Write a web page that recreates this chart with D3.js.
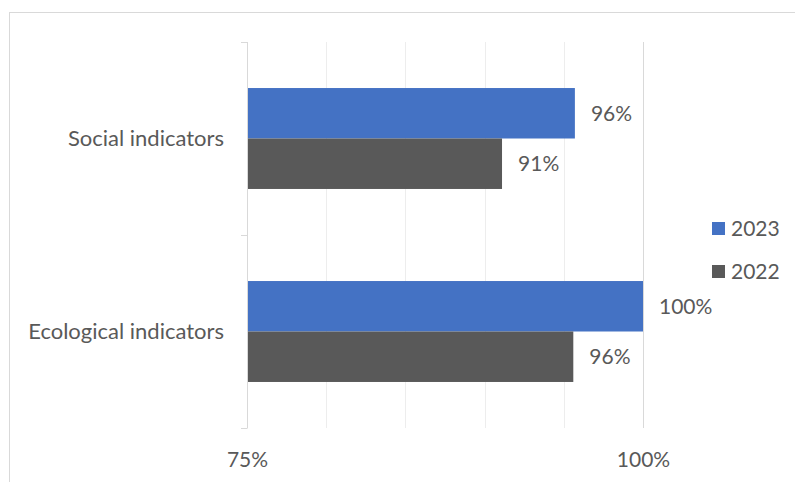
<!DOCTYPE html>
<html>
<head>
<meta charset="utf-8">
<script src="https://cdn.jsdelivr.net/npm/d3@7"></script>
<style>
  html, body { margin: 0; padding: 0; background: #fff; }
  svg { display: block; font-family: Lato, "Open Sans", sans-serif; }
</style>
</head>
<body>
<svg id="chart" width="795" height="482"></svg>
<script>
// ---- data ----
const categories = ['Social indicators', 'Ecological indicators'];
const seriesNames = ['2023', '2022'];
const values2023 = [0.957, 1.0];
const values2022 = [0.911, 0.956];
const majorTicks = [0.75, 1.0];
const minorTicks = [0.80, 0.85, 0.90, 0.95];

const COLORS = { '2023': '#4472c4', '2022': '#595959' };
const TEXT = '#595959';

const rows = categories.map((c, i) => ({
  cat: c,
  vals: [
    { key: '2023', v: values2023[i] },
    { key: '2022', v: values2022[i] }
  ]
}));

const svg = d3.select('#chart');
const margin = { top: 42, left: 247, right: 152, bottom: 54 };
const W = 795, H = 482;

// chart area border
svg.append('rect')
  .attr('x', 9.5).attr('y', 12.5)
  .attr('width', 800).attr('height', 500)
  .attr('fill', 'none').attr('stroke', '#d9d9d9');

const x = d3.scaleLinear().domain([0.75, 1.0]).range([margin.left, W - margin.right]);
const y = d3.scaleBand().domain(categories)
  .range([margin.top, H - margin.bottom])
  .paddingInner(0.477).paddingOuter(0.2385);
const ySub = d3.scaleBand().domain(seriesNames).range([0, y.bandwidth()]);

const plotTop = margin.top, plotBot = H - margin.bottom;

// gridlines
svg.append('g').selectAll('line').data(minorTicks).join('line')
  .attr('x1', d => Math.round(x(d)) + 0.5).attr('x2', d => Math.round(x(d)) + 0.5)
  .attr('y1', plotTop).attr('y2', plotBot)
  .attr('stroke', '#ededed');
svg.append('g').selectAll('line').data(majorTicks.slice(1)).join('line')
  .attr('x1', d => Math.round(x(d)) + 0.5).attr('x2', d => Math.round(x(d)) + 0.5)
  .attr('y1', plotTop).attr('y2', plotBot)
  .attr('stroke', '#d9d9d9');

// category axis line + boundary ticks
const bounds = [plotTop, plotTop + y.step(), plotBot];
const axisG = svg.append('g');
axisG.append('line')
  .attr('x1', x(0.75) + 0.5).attr('x2', x(0.75) + 0.5)
  .attr('y1', plotTop).attr('y2', plotBot)
  .attr('stroke', '#d9d9d9');
axisG.selectAll('.btick').data(bounds).join('line')
  .attr('class', 'btick')
  .attr('x1', x(0.75) - 6).attr('x2', x(0.75) + 0.5)
  .attr('y1', d => Math.round(d) + 0.5).attr('y2', d => Math.round(d) + 0.5)
  .attr('stroke', '#d9d9d9');

// bars
const groups = svg.append('g').selectAll('g').data(rows).join('g')
  .attr('transform', d => `translate(0,${y(d.cat)})`);

groups.selectAll('rect').data(d => d.vals).join('rect')
  .attr('x', x(0.75) + 1)
  .attr('y', d => ySub(d.key))
  .attr('width', d => x(d.v) - x(0.75) - 1)
  .attr('height', ySub.bandwidth())
  .attr('fill', d => COLORS[d.key]);

groups.selectAll('text').data(d => d.vals).join('text')
  .attr('x', d => x(d.v) + 16)
  .attr('y', d => ySub(d.key) + ySub.bandwidth() / 2)
  .attr('dy', '0.36em')
  .attr('fill', TEXT).attr('font-size', 21)
  .text(d => d3.format('.0%')(d.v));

// y axis labels
svg.append('g')
  .attr('transform', `translate(${x(0.75)},0)`)
  .call(d3.axisLeft(y).tickSize(0).tickPadding(23))
  .call(g => {
    g.select('.domain').remove();
    g.selectAll('text').attr('fill', TEXT).attr('font-size', 22)
      .attr('font-family', 'Lato, sans-serif');
  });

// x axis labels
svg.append('g')
  .attr('transform', `translate(0,${plotBot})`)
  .call(d3.axisBottom(x).tickValues(majorTicks).tickSize(0).tickPadding(24)
    .tickFormat(d3.format('.0%')))
  .call(g => {
    g.select('.domain').remove();
    g.selectAll('text').attr('fill', TEXT).attr('font-size', 21)
      .attr('font-family', 'Lato, sans-serif');
  });

// legend
const legend = svg.append('g').attr('transform', 'translate(712,222)');
const li = legend.selectAll('g').data(seriesNames).join('g')
  .attr('transform', (d, i) => `translate(0,${i * 43})`);
li.append('rect').attr('width', 13).attr('height', 13).attr('fill', d => COLORS[d]);
li.append('text').attr('x', 19).attr('y', 6.5).attr('dy', '0.36em')
  .attr('fill', TEXT).attr('font-size', 21).text(d => d);
</script>
</body>
</html>
